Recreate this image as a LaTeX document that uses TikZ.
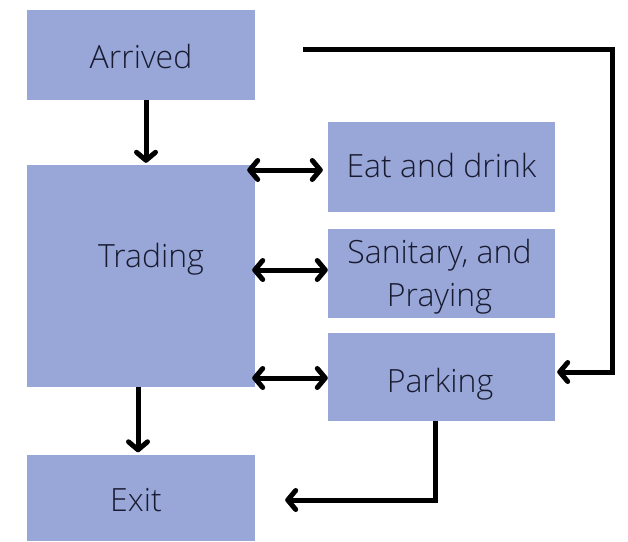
\documentclass[tikz,border=0pt]{standalone}
\usepackage{fontspec}
\setmainfont{Open Sans}[UprightFont=* Light]
\usetikzlibrary{arrows.meta}
\definecolor{boxfill}{RGB}{153,166,216}
\definecolor{boxtext}{RGB}{24,27,48}
\tikzset{
  box/.style={fill=boxfill, draw=none, minimum width=228pt, inner sep=0pt},
  boxlabel/.style={font=\fontsize{32}{43}\selectfont, text=boxtext, inner sep=0pt,
                   align=center, anchor=base},
  flow/.style={line width=5pt, line join=miter, line cap=butt, -{Straight Barb[length=8pt,width=19pt,round]}},
  twoway/.style={line width=5pt,
               {Straight Barb[length=8pt,width=19pt,round]}-{Straight Barb[length=8pt,width=19pt,round]}}
}
\begin{document}
\begin{tikzpicture}[x=1pt,y=-1pt]
  \useasboundingbox (0,0) rectangle (628,541);

  % left column
  \node[box, minimum height=90pt]  (arrived) at (141,55)    {};
  \node[box, minimum height=222pt] (trading) at (141,276)   {};
  \node[box, minimum height=86pt]  (exit)    at (141,497.5) {};

  % right column
  \node[box, minimum width=227pt, minimum height=90pt] (eat)      at (441.5,167)   {};
  \node[box, minimum width=227pt, minimum height=89pt] (sanitary) at (441.5,273.5) {};
  \node[box, minimum width=227pt, minimum height=88pt] (parking)  at (441.5,377)   {};

  % box texts, placed on their (last) baselines
  \node[boxlabel] (arrivedtxt)  at (141,68)    {Arrived};
  \node[boxlabel] (tradingtxt)  at (151,267)   {Trading};
  \node[boxlabel] (exittxt)     at (136,511)   {Exit};
  \node[boxlabel] (eattxt)      at (441.5,177) {Eat and drink};
  \node[boxlabel] (sanitarytxt) at (439.5,306) {Sanitary, and\\Praying};
  \node[boxlabel] (parkingtxt)  at (440,392)   {Parking};

  % main flow
  \draw[flow] ([xshift=5pt]arrived.south) -- ([xshift=5pt,yshift=2pt]trading.north);
  \draw[flow] ([xshift=-3pt]trading.south) -- ([xshift=-3pt,yshift=2pt]exit.north);

  % two-way links to the facilities
  \draw[twoway] ([xshift=-8pt,yshift=-3pt]trading.east |- eat.west) -- ([xshift=-5pt,yshift=-3pt]eat.west);
  \draw[twoway] ([xshift=-3pt,yshift=3.5pt]trading.east |- sanitary.west) -- ([yshift=3.5pt]sanitary.west);
  \draw[twoway] ([xshift=-3pt,yshift=-1pt]trading.east |- parking.west) -- ([yshift=-1pt]parking.west);

  % bypass from arrival straight to parking
  \coordinate (bypassstart) at (303,49);
  \draw[flow] (bypassstart) -- (612,49) -- (612,372) -- ([xshift=2pt]parking.east |- 0,372);

  % leaving from parking
  \draw[flow] ([xshift=-6.5pt]parking.south) -- (435,500) -- ([xshift=30pt]exit.east |- 0,500);
\end{tikzpicture}
\end{document}
